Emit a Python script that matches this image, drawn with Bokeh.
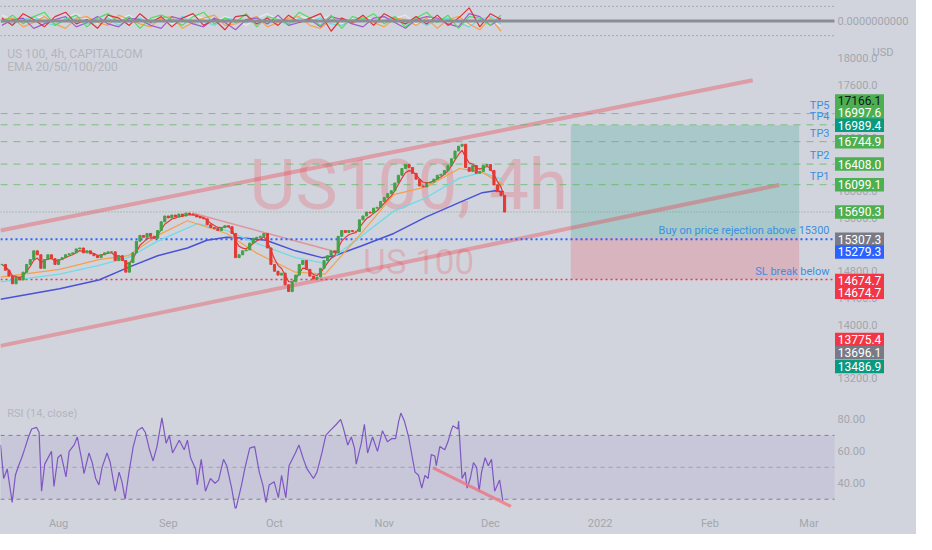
import pandas as pd
from bokeh.plotting import figure
from bokeh.layouts import column
from bokeh.models import Range1d, FixedTicker, BoxAnnotation, ColumnDataSource
from bokeh.core.properties import value
from bokeh.embed import file_html
from bokeh.resources import INLINE

# ---------------- data (x = days since 2021-07-01) ----------------
candle_first_day = 15
closes = [14902, 14815, 14727, 14611, 14713, 14669, 14786, 14902, 14975, 15106,
          15047, 14844, 14975, 15047, 14989, 14902, 14975, 15004, 15047, 15062,
          15076, 15135, 15149, 15076, 15106, 15062, 15033, 15004, 15047, 15076,
          15091, 15091, 14960, 15033, 14960, 14786, 14931, 15076, 15251, 15338,
          15309, 15367, 15324, 15295, 15411, 15542, 15629, 15600, 15644, 15615,
          15658, 15629, 15673, 15658, 15644, 15615, 15600, 15586, 15498, 15455,
          15440, 15411, 15455, 15484, 15469, 15367, 15004, 15047, 15106, 15120,
          15222, 15295, 15309, 15324, 15367, 15149, 14902, 14800, 14742, 14771,
          14596, 14495, 14640, 14742, 14902, 14960, 14829, 14727, 14684, 14713,
          14844, 14960, 15033, 15106, 15076, 15324, 15411, 15382, 15411, 15397,
          15397, 15571, 15629, 15688, 15673, 15746, 15760, 15848, 15906, 15964,
          16008, 16124, 16241, 16342, 16401, 16357, 16270, 16182, 16080, 16066,
          16124, 16139, 16182, 16241, 16255, 16313, 16386, 16488, 16604, 16677,
          16706, 16357, 16299, 16386, 16270, 16299, 16386, 16401, 16313, 16095,
          15993, 15935, 15688]

ema50_days = [14.6, 31.3, 42.4, 50.7, 59.0, 67.4, 78.5, 86.8, 97.9, 106.3, 116.5, 125.7, 134.9, 144.3, 150.7, 156.8]
ema50_vals = [14713, 14829, 14975, 15033, 15338, 15557, 15367, 15076, 14786, 14756, 15367, 15949, 16066, 16342, 16284, 16095]
ema100_days = [14.6, 31.3, 42.4, 50.7, 59.0, 70.2, 78.5, 86.8, 97.9, 106.3, 116.5, 125.7, 134.9, 144.3, 150.7, 156.8]
ema100_vals = [14640, 14756, 14887, 15004, 15251, 15513, 15411, 15222, 15004, 14917, 15324, 15702, 15906, 16197, 16284, 16168]
ema200_days = [14.6, 31.3, 42.4, 50.7, 59.0, 67.4, 72.9, 78.5, 84.0, 89.6, 97.9, 105.4, 109.0, 116.5, 125.7, 134.9, 144.3, 150.7, 154.3, 156.8]
ema200_vals = [14378, 14538, 14669, 14858, 15033, 15149, 15266, 15309, 15295, 15266, 15106, 15004, 15033, 15178, 15367, 15615, 15833, 15979, 16008, 15993]

rsi_days = [14.6, 15.5, 16.5, 17.9, 18.8, 19.7, 20.6, 21.5, 22.5, 23.4,
            24.8, 25.5, 26.2, 27.1, 29.0, 29.7, 30.8, 31.7, 33.1, 34.0,
            35.4, 36.3, 37.7, 38.2, 39.6, 40.5, 41.5, 42.4, 43.3, 44.7,
            45.6, 47.0, 48.1, 48.9, 49.8, 50.9, 52.1, 53.3, 54.6, 55.5,
            56.7, 57.7, 58.8, 60.2, 61.4, 62.3, 63.2, 65.1, 66.5, 67.4,
            68.3, 69.7, 70.2, 71.3, 72.5, 73.9, 75.2, 76.2, 77.6, 78.5,
            79.9, 81.0, 82.7, 83.6, 85.0, 86.4, 87.7, 88.7, 89.6, 90.5,
            91.9, 93.1, 94.0, 95.2, 96.1, 97.9, 98.9, 100.2, 101.2, 103.0,
            104.0, 105.4, 106.5, 107.7, 109.5, 110.7, 111.4, 112.7, 113.7, 114.6,
            115.1, 116.5, 117.4, 118.3, 119.7, 121.1, 122.5, 123.9, 125.2, 126.2,
            127.1, 127.7, 128.7, 129.9, 130.3, 131.7, 132.7, 133.6, 134.5, 135.4,
            136.3, 137.3, 137.7, 138.7, 140.1, 141.0, 141.9, 142.4, 143.8, 144.0,
            145.0, 145.9, 146.4, 147.3, 148.2, 149.1, 149.8, 150.5, 151.5, 152.4,
            153.3, 154.2, 155.6, 156.5]
rsi_vals = [64, 43, 49, 28, 45, 51, 56, 62, 69, 74,
            75, 72, 35, 52, 60, 38, 56, 58, 44, 60,
            64, 69, 53, 46, 59, 53, 43, 39, 50, 59,
            53, 35, 47, 41, 30, 47, 63, 73, 75, 72,
            61, 54, 63, 81, 65, 70, 59, 67, 61, 67,
            56, 49, 39, 55, 35, 43, 40, 42, 55, 51,
            37, 23, 39, 49, 62, 63, 47, 39, 28, 39,
            41, 31, 45, 31, 51, 59, 64, 55, 49, 43,
            47, 59, 70, 73, 77, 80, 75, 64, 69, 62,
            52, 65, 77, 59, 69, 60, 73, 66, 68, 68,
            79, 84, 79, 69, 64, 47, 45, 37, 45, 43,
            58, 57, 51, 63, 61, 66, 73, 76, 74, 79,
            43, 47, 37, 43, 53, 50, 35, 47, 56, 51,
            55, 35, 42, 29]

osc_first_day = 15
osc_red = [0.2, -0.3, 0.5, 0.1, -0.4, 0.3, 0.6, -0.2, 0.1, -0.5, 0.4, 0.2, -0.3, 0.5, -0.1, 0.3, -0.4, 0.2, 0.5, -0.3, 0.1, -0.6, 0.3, 0.4,
           -0.2, 0.2, -0.3, 0.4, -0.1, 0.2, 0.5, -0.7, 0.2, -0.1, 0.4, -0.3, 0.5, 0.1, -0.2, 0.3, -0.2, 0.4, -0.3, 0.2, 0.9, -0.4, 0.5, 0.1]
osc_green = [-0.1, 0.4, -0.2, 0.3, 0.6, -0.3, 0.1, 0.4, -0.4, 0.2, 0.5, -0.1, 0.3, -0.5, 0.2, 0.4, 0.1, -0.3, 0.3, 0.6, -0.2, 0.2, -0.1, 0.5,
             -0.4, 0.3, 0.1, -0.2, 0.6, 0.2, -0.3, 0.4, -0.5, 0.3, 0.1, 0.5, -0.2, 0.3, -0.4, 0.2, 0.6, -0.1, 0.4, -0.5, 0.3, 0.2, -0.3, 0.4]
osc_orange = [0.1, 0.2, -0.4, -0.1, 0.3, -0.2, -0.5, 0.2, 0.3, -0.1, -0.3, 0.4, 0.1, -0.2, -0.4, 0.2, 0.3, -0.5, -0.1, 0.2, 0.4, -0.3, -0.2, 0.1,
              0.3, -0.4, -0.1, 0.2, 0.3, -0.3, -0.5, 0.1, 0.2, -0.2, 0.3, -0.1, -0.4, 0.2, 0.1, -0.3, 0.2, -0.5, 0.1, 0.3, -0.2, -0.6, 0.2, -0.7]
osc_purple = [-0.3, 0.1, 0.2, -0.5, -0.2, 0.1, 0.3, -0.4, -0.1, 0.3, -0.2, -0.4, 0.2, 0.1, -0.3, -0.5, 0.3, 0.1, -0.2, -0.4, 0.2, -0.1, -0.6, 0.1,
              0.2, -0.2, 0.4, -0.3, -0.1, 0.1, -0.4, 0.3, 0.1, -0.2, -0.4, 0.2, 0.3, -0.1, -0.5, 0.1, 0.3, 0.2, -0.2, -0.4, 0.5, 0.3, -0.3, 0.2]
osc_cyan = [0.0, -0.2, 0.1, 0.3, -0.1, -0.3, 0.2, 0.1, -0.2, -0.1, 0.2, -0.3, 0.1, 0.2, -0.2, 0.1, -0.1, 0.3, -0.2, 0.0, -0.3, 0.2, 0.1, -0.1,
            0.3, -0.2, 0.1, -0.3, 0.2, 0.0, 0.2, -0.2, -0.3, 0.1, 0.2, -0.1, 0.0, 0.3, -0.2, 0.1, -0.3, 0.1, 0.2, -0.1, -0.4, 0.1, 0.3, -0.2]
osc_gray = [0.4, 0.1, -0.2, 0.2, 0.3, -0.1, 0.2, 0.5, 0.1, -0.2, 0.3, 0.1, 0.4, -0.1, 0.2, 0.3, -0.2, 0.1, 0.4, 0.2, -0.1, 0.3, 0.1, -0.3,
            0.2, 0.5, 0.1, -0.1, 0.3, 0.2, 0.1, 0.4, -0.2, 0.2, 0.3, 0.1, -0.1, 0.2, 0.4, -0.2, 0.1, 0.3, -0.1, 0.2, -0.3, 0.2, 0.1, -0.4]

channel_upper_days = [14.6, 227.1]
channel_upper_vals = [15411, 17666]
channel_lower_days = [14.6, 234.6]
channel_lower_vals = [13680, 16095]
downtrend_days = [68.8, 108.2]
downtrend_vals = [15673, 15106]
rsi_trend_days = [136.8, 158.8]
rsi_trend_vals = [49.7, 25.5]

pos_left_day, pos_right_day = 175.7, 240.2
pos_target, pos_entry, pos_stop = 16989.4, 15307.3, 14674.7

tp_names = ["TP1", "TP2", "TP3", "TP4", "TP5"]
tp_values = [16099.1, 16408.0, 16744.9, 16997.6, 17166.1]
buy_level = 15279.3
sl_level = 14674.7
last_price = 15690.3
buy_text = "Buy on price rejection above 15300"
sl_text = "SL break below"

box_values = [17166.1, 16997.6, 16989.4, 16744.9, 16408.0, 16099.1, 15690.3,
              15307.3, 15279.3, 14674.7, 14674.7, 13775.4, 13696.1, 13486.9]

price_ticks = [13200, 13600, 14000, 14400, 14800, 15200, 15600, 16000, 16400, 16800, 17200, 17600, 18000]
rsi_ticks = [40, 60, 80]
osc_ticks = [0]
month_ticks = [31, 62, 92, 123, 153, 184, 215, 243]
month_labels = ["Aug", "Sep", "Oct", "Nov", "Dec", "2022", "Feb", "Mar"]

# ---------------- styles / layout ----------------
BG = "#d1d4dc"
FONT = "Roboto"
AXIS_TXT = "#a3a6ae"
LEG_TXT = "#b3b6be"
BLUE_TXT = "#3d8fe0"
REF_PX = 14.55           # price per reference pixel (for label stacking)
X0 = 14.6                # first visible day
X_END = 250.2            # right edge of the chart pane (day)
DAY_PER_PX = (X_END - X0) / 834.0
X_MAX = X0 + 916 * DAY_PER_PX
AXIS_LABEL_X = X0 + 837 * DAY_PER_PX
BOX_X = X0 + 859 * DAY_PER_PX
USD_X = X0 + 872 * DAY_PER_PX

box_colors = ["#4caf50", "#4caf50", "#089981", "#4caf50", "#4caf50", "#4caf50", "#4caf50",
              "#787b86", "#2962ff", "#f23645", "#f23645", "#f23645", "#787b86", "#089981"]
box_text_colors = ["#131722"] + ["#ffffff"] * 13
box_shift = [-13, -13, 0, 0, 0, 0, 0, 2, 13, 1, 13, 0, 8, 8]

xr = Range1d(X0, X_MAX)


def base_fig(height, yr, xaxis=False, bottom=0):
    p = figure(width=916, height=height, x_range=xr, y_range=yr,
               output_backend="svg", toolbar_location=None,
               x_axis_location="below" if xaxis else None, y_axis_location=None,
               min_border_left=0, min_border_right=0, min_border_top=0, min_border_bottom=bottom,
               background_fill_color=BG, border_fill_color=BG, outline_line_color=None)
    p.grid.visible = False
    return p


def axis_labels(p, ticks, labels):
    p.text(x=[AXIS_LABEL_X] * len(ticks), y=ticks, text=labels, text_font=value(FONT),
           text_font_size="11px", text_color=AXIS_TXT, text_align="left", text_baseline="middle")


def hline(p, levels, **kw):
    p.segment(x0=[X0] * len(levels), x1=[X_END] * len(levels), y0=levels, y1=levels, **kw)


# ---------------- top oscillator panel ----------------
top = base_fig(41, Range1d(-1.4, 1.4))
axis_labels(top, osc_ticks, ["0.0000000000"])
hline(top, [1, -1], line_color="#787b86", line_dash="1 3", line_width=1)
for series, color in [(osc_gray, "#e8e8ec"), (osc_cyan, "#6fd6e0"), (osc_orange, "#f5a04a"),
                      (osc_purple, "#a05ad0"), (osc_green, "#4fdc5f"), (osc_red, "#e0303a")]:
    d = [osc_first_day + 3 * i for i in range(len(series))]
    top.line(d, series, line_color=color, line_width=1.2)
hline(top, [0], line_color="#8a8d96", line_width=3)

# ---------------- main price panel ----------------
main = base_fig(347, Range1d(13040, 18248))
axis_labels(main, price_ticks, [f"{t:.1f}" for t in price_ticks])

# position tool
main.quad(left=[pos_left_day], right=[pos_right_day], bottom=[pos_entry], top=[pos_target],
          fill_color="#089981", fill_alpha=0.2, line_color=None)
main.quad(left=[pos_left_day], right=[pos_right_day], bottom=[pos_stop], top=[pos_entry],
          fill_color="#f23645", fill_alpha=0.2, line_color=None)

# watermark
main.text(x=[129.9], y=[16095], text=["US100, 4h"], text_font=value(FONT), text_font_size="71px",
          text_color="#f23645", text_alpha=0.22, text_align="center", text_baseline="middle")
main.text(x=[132.7], y=[14931], text=["US 100"], text_font=value(FONT), text_font_size="35px",
          text_color="#f23645", text_alpha=0.22, text_align="center", text_baseline="middle")

# channel and trend lines
main.line(channel_upper_days, channel_upper_vals, line_color="#f23645", line_alpha=0.35, line_width=4)
main.line(channel_lower_days, channel_lower_vals, line_color="#f23645", line_alpha=0.35, line_width=4)
main.line(downtrend_days, downtrend_vals, line_color="#f23645", line_alpha=0.4, line_width=1.5)

# horizontal levels
hline(main, tp_values, line_color="#5cb85f", line_alpha=0.75, line_dash="7 6", line_width=1)
hline(main, [last_price], line_color="#6f9f72", line_alpha=0.8, line_dash="1 2", line_width=1)
hline(main, [buy_level], line_color="#2962ff", line_dash="2 3", line_width=2)
hline(main, [sl_level], line_color="#f23645", line_dash="2 3", line_width=1.5)

# EMAs
cl = pd.Series(closes, dtype=float)
days = [candle_first_day + i for i in range(len(closes))]
ema20 = cl.ewm(span=4, adjust=False).mean()
main.line(ema200_days, ema200_vals, line_color="#4a52d6", line_width=1.5)
main.line(ema100_days, ema100_vals, line_color="#6fdbe6", line_width=1.3)
main.line(ema50_days, ema50_vals, line_color="#f5a04a", line_width=1.2)
main.line(days, list(ema20), line_color="#e53935", line_width=1.2)

# candles
opens = [closes[0]] + closes[:-1]
src = ColumnDataSource(dict(
    x=days,
    top=[max(o, c) for o, c in zip(opens, closes)],
    bottom=[min(o, c) for o, c in zip(opens, closes)],
    color=["#43a047" if c >= o else "#e53935" for o, c in zip(opens, closes)],
))
main.vbar(x="x", width=0.6, top="top", bottom="bottom", fill_color="color", line_color="color", source=src)

# level texts
main.text(x=[248.8] * len(tp_values), y=tp_values, text=tp_names, text_font=value(FONT),
          text_font_size="11px", text_color=BLUE_TXT, text_align="right", text_baseline="bottom", y_offset=-2)
main.text(x=[248.8, 248.8], y=[buy_level, sl_level], text=[buy_text, sl_text], text_font=value(FONT),
          text_font_size="11px", text_color=BLUE_TXT, text_align="right", text_baseline="bottom", y_offset=-2)

# legend texts
main.text(x=[16.5, 16.5], y=[18059, 17870], text=["US 100, 4h, CAPITALCOM", "EMA 20/50/100/200"],
          text_font=value(FONT), text_font_size="12px", text_color=LEG_TXT,
          text_align="left", text_baseline="middle")

# price-scale boxes
box_y = [v - s * REF_PX for v, s in zip(box_values, box_shift)]
bsrc = ColumnDataSource(dict(x=[BOX_X] * len(box_values), y=box_y,
                             label=[f"{v:.1f}" for v in box_values],
                             fill=box_colors, tcol=box_text_colors))
main.rect(x="x", y="y", width=49, height=13.5, width_units="screen", height_units="screen",
          fill_color="fill", line_color=None, source=bsrc)
main.text(x="x", y="y", text="label", text_color="tcol", text_font=value(FONT), text_font_size="12px",
          text_align="center", text_baseline="middle", source=bsrc)
main.text(x=[USD_X], y=[18088], text=["USD"], text_font=value(FONT), text_font_size="11px",
          text_color=AXIS_TXT, text_align="left", text_baseline="middle")

# ---------------- RSI panel ----------------
rsi = base_fig(146, Range1d(24.2, 99.4), xaxis=True, bottom=26)
axis_labels(rsi, rsi_ticks, [f"{t:.2f}" for t in rsi_ticks])
xa = rsi.xaxis[0]
xa.axis_line_color = None
xa.major_tick_line_color = None
xa.minor_tick_line_color = None
xa.major_tick_out = 0
xa.major_tick_in = 0
xa.minor_tick_out = 0
xa.minor_tick_in = 0
xa.major_label_text_color = AXIS_TXT
xa.major_label_text_font = FONT
xa.major_label_text_font_size = "11px"
xa.major_label_standoff = 8
xa.ticker = FixedTicker(ticks=month_ticks)
xa.major_label_overrides = {t: s for t, s in zip(month_ticks, month_labels)}

rsi.add_layout(BoxAnnotation(left=X0, right=X_END, bottom=30, top=70, fill_color="#7e57c2",
                             fill_alpha=0.1, line_color=None))
for lvl, a in ((70, 0.9), (50, 0.5), (30, 0.9)):
    hline(rsi, [lvl], line_color="#787b86", line_alpha=a, line_dash="4 4", line_width=1)
rsi.line(rsi_days, rsi_vals, line_color="#7e57c2", line_width=1.2)
rsi.line(rsi_trend_days, rsi_trend_vals, line_color="#f77c80", line_alpha=0.85, line_width=3)
rsi.text(x=[16.5], y=[83.6], text=["RSI (14, close)"], text_font=value(FONT), text_font_size="11px",
         text_color=LEG_TXT, text_align="left", text_baseline="middle")

layout = column(top, main, rsi, spacing=0)
layout.background = BG
open("out.html", "w").write(file_html(layout, INLINE))
